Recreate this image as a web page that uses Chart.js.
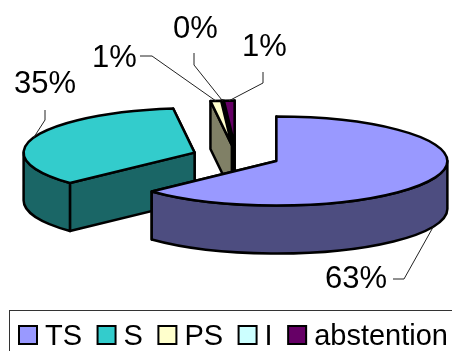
<!DOCTYPE html>
<html>
<head>
<meta charset="utf-8">
<title>Vote</title>
<script src="https://cdn.jsdelivr.net/npm/chart.js@4"></script>
<style>
  html, body { margin: 0; padding: 0; background: #fff; }
  canvas { display: block; }
</style>
</head>
<body>
<canvas id="canvas" width="452" height="351"></canvas>
<script>
const categories = ['TS', 'S', 'PS', 'I', 'abstention'];
const shares = [63, 35, 1, 0, 1];

const topColors = ['#9999FF', '#33CCCC', '#FFFFCC', '#CCFFFF', '#660066'];
const wallColors = ['#4D4D80', '#1A6666', '#808066', '#668080', '#330033'];
const explode = [44, 44, 44, 44, 44];

// vertical squash of the tilted disc and height of the extrusion
const TILT = 0.26;
const DEPTH = 48;
const FONT = '"Liberation Sans", Arial, sans-serif';

// where each percentage sits, and the elbow of its leader line
const labelSpots = [[325, 288], [14, 93], [92, 67], [173, 38], [242, 56]];
const elbows = [
    [[393, 279], [404, 279]],
    [[45, 110], [45, 120]],
    [[140, 56], [152, 56]],
    [[194, 53], [194, 65]],
    [[263, 72], [263, 83]],
];

// slice centre after explosion, in screen space
const sliceCentre = (arc) => {
    const mid = (arc.startAngle + arc.endAngle) / 2;
    const off = arc.options.offset;
    return { x: arc.x + Math.cos(mid) * off, y: arc.y + Math.sin(mid) * off * TILT };
};

const rimPoint = (c, r, angle) => ({
    x: c.x + Math.cos(angle) * r,
    y: c.y + Math.sin(angle) * r * TILT,
});

const drawSlice = (ctx, arc, wall) => {
    const c = sliceCentre(arc);
    const r = arc.outerRadius;
    const a0 = arc.startAngle;
    const a1 = arc.endAngle;
    const start = rimPoint(c, r, a0);
    const end = rimPoint(c, r, a1);

    const radialWall = (p) => {
        ctx.beginPath();
        ctx.moveTo(c.x, c.y);
        ctx.lineTo(p.x, p.y);
        ctx.lineTo(p.x, p.y + DEPTH);
        ctx.lineTo(c.x, c.y + DEPTH);
        ctx.closePath();
        ctx.fillStyle = wall;
        ctx.fill();
        ctx.stroke();
    };

    // farther cut face first so the nearer one covers it
    (start.y < end.y ? [start, end] : [end, start]).forEach(radialWall);

    // outer wall: only the part of the rim that faces front
    const from = Math.max(a0, 0);
    const to = Math.min(a1, Math.PI);
    if (to > from) {
        const p0 = rimPoint(c, r, from);
        const p1 = rimPoint(c, r, to);
        ctx.beginPath();
        ctx.ellipse(c.x, c.y, r, r * TILT, 0, from, to);
        ctx.lineTo(p1.x, p1.y + DEPTH);
        ctx.ellipse(c.x, c.y + DEPTH, r, r * TILT, 0, to, from, true);
        ctx.lineTo(p0.x, p0.y);
        ctx.closePath();
        ctx.fillStyle = wall;
        ctx.fill();
        ctx.stroke();
    }

    ctx.beginPath();
    ctx.moveTo(c.x, c.y);
    ctx.ellipse(c.x, c.y, r, r * TILT, 0, a0, a1);
    ctx.closePath();
    ctx.fillStyle = arc.options.backgroundColor;
    ctx.fill();
    ctx.stroke();
};

const pie3d = {
    id: 'pie3d',
    beforeDatasetsDraw(chart) {
        const ctx = chart.ctx;
        const arcs = chart.getDatasetMeta(0).data;
        ctx.save();
        ctx.strokeStyle = '#000';
        ctx.lineWidth = 2.5;
        ctx.lineJoin = 'round';
        // back slices first, the big front ones last
        [4, 3, 2, 1, 0].forEach((i) => drawSlice(ctx, arcs[i], wallColors[i]));
        ctx.restore();
        return false;
    },
    afterDraw(chart) {
        const ctx = chart.ctx;
        const arcs = chart.getDatasetMeta(0).data;
        ctx.save();

        // leader lines
        ctx.strokeStyle = '#222';
        ctx.lineWidth = 1;
        arcs.forEach((arc, i) => {
            const mid = (arc.startAngle + arc.endAngle) / 2;
            const p = rimPoint(sliceCentre(arc), arc.outerRadius, mid);
            const bottom = Math.sin(mid) > 0 ? DEPTH : 0;
            ctx.beginPath();
            ctx.moveTo(elbows[i][0][0], elbows[i][0][1]);
            ctx.lineTo(elbows[i][1][0], elbows[i][1][1]);
            ctx.lineTo(p.x, p.y + bottom);
            ctx.stroke();
        });

        // percentages
        ctx.fillStyle = '#000';
        ctx.font = '31px ' + FONT;
        ctx.textAlign = 'left';
        ctx.textBaseline = 'alphabetic';
        shares.forEach((v, i) => {
            ctx.fillText(v + '%', labelSpots[i][0], labelSpots[i][1]);
        });

        // legend, tighter than the built-in one allows
        ctx.strokeStyle = '#333';
        ctx.lineWidth = 1;
        ctx.strokeRect(9.5, 310.5, 460, 60);
        ctx.font = '29px ' + FONT;
        let x = 19;
        categories.forEach((name, i) => {
            ctx.fillStyle = topColors[i];
            ctx.strokeStyle = '#000';
            ctx.lineWidth = 2;
            ctx.fillRect(x, 326, 18, 18);
            ctx.strokeRect(x, 326, 18, 18);
            ctx.fillStyle = '#000';
            ctx.fillText(name, x + 26, 345);
            x += 26 + ctx.measureText(name).width + 15.5;
        });
        ctx.restore();
    },
};

new Chart(document.getElementById('canvas').getContext('2d'), {
    type: 'pie',
    data: {
        labels: categories,
        datasets: [{
            data: shares,
            backgroundColor: topColors,
            offset: explode,
            radius: 171,
        }],
    },
    options: {
        responsive: false,
        animation: false,
        layout: { padding: { left: 20, right: 0, top: 0, bottom: 38 } },
        plugins: { legend: { display: false }, tooltip: { enabled: false } },
    },
    plugins: [pie3d],
});
</script>
</body>
</html>
